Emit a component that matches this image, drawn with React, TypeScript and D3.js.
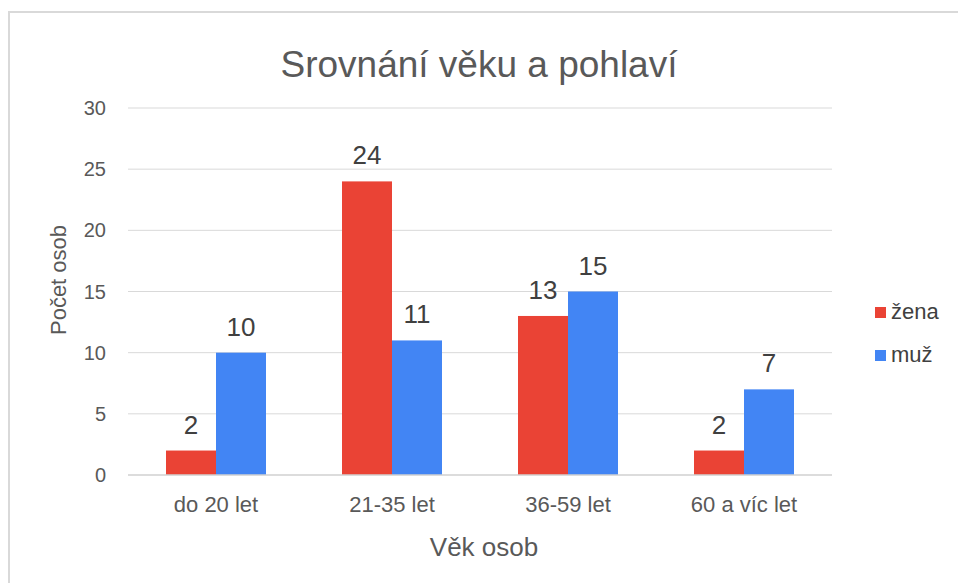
import * as d3 from "d3";
import { useEffect, useRef } from "react";

const categories = ["do 20 let", "21-35 let", "36-59 let", "60 a víc let"];
const seriesNames = ["žena", "muž"];
const zena = [2, 24, 13, 2];
const muz = [10, 11, 15, 7];
const yTicks = [0, 5, 10, 15, 20, 25, 30];
const colors = ["#ea4335", "#4285f4"];

export default function App() {
  const ref = useRef<SVGSVGElement | null>(null);
  useEffect(() => {
    if (!ref.current) return;
    const svg = d3.select(ref.current);
    svg.selectAll("*").remove();
    const w = 958;
    const h = 583;
    const font = "'Liberation Sans', Arial, sans-serif";

    // chart frame, clipped at right and bottom
    svg.append("rect").attr("x", 9).attr("y", 12).attr("width", w + 20).attr("height", h + 20)
      .attr("fill", "#fff").attr("stroke", "#d9d9d9").attr("stroke-width", 2);

    const x = d3.scaleBand<string>().domain(categories).range([128, 832]);
    const y = d3.scaleLinear().domain([0, 30]).range([475, 108]);
    const inner = d3.scaleBand<string>().domain(seriesNames).range([0, 100]);
    const pad = (x.bandwidth() - 100) / 2;

    svg.append("text").attr("x", 479).attr("y", 77).attr("text-anchor", "middle")
      .attr("font-family", font).attr("font-size", 37).attr("fill", "#595959").text("Srovnání věku a pohlaví");

    const grid = svg.append("g");
    grid.selectAll("line").data(yTicks.filter((t) => t > 0)).join("line")
      .attr("x1", 128).attr("x2", 832).attr("y1", (d) => y(d)).attr("y2", (d) => y(d))
      .attr("stroke", "#d9d9d9").attr("stroke-width", 1);
    svg.append("g").selectAll("text").data(yTicks).join("text")
      .attr("x", 106).attr("y", (d) => y(d) + 7).attr("text-anchor", "end")
      .attr("font-family", font).attr("font-size", 20).attr("fill", "#595959").text((d) => d);

    const rows = [zena, muz];
    rows.forEach((vals, si) => {
      const g = svg.append("g");
      g.selectAll("rect").data(vals).join("rect")
        .attr("x", (_, i) => (x(categories[i]) ?? 0) + pad + (inner(seriesNames[si]) ?? 0))
        .attr("y", (d) => y(d)).attr("width", inner.bandwidth()).attr("height", (d) => y(0) - y(d))
        .attr("fill", colors[si]);
      g.selectAll("text").data(vals).join("text")
        .attr("x", (_, i) => (x(categories[i]) ?? 0) + pad + (inner(seriesNames[si]) ?? 0) + inner.bandwidth() / 2)
        .attr("y", (d) => y(d) - 17).attr("text-anchor", "middle")
        .attr("font-family", font).attr("font-size", 26).attr("fill", "#404040").text((d) => d);
    });

    svg.append("line").attr("x1", 128).attr("x2", 832).attr("y1", y(0)).attr("y2", y(0))
      .attr("stroke", "#d0d0d0").attr("stroke-width", 1.5);

    svg.append("g").selectAll("text").data(categories).join("text")
      .attr("x", (d) => (x(d) ?? 0) + x.bandwidth() / 2).attr("y", 512).attr("text-anchor", "middle")
      .attr("font-family", font).attr("font-size", 22).attr("fill", "#595959").text((d) => d);

    svg.append("text").attr("x", 484).attr("y", 556).attr("text-anchor", "middle")
      .attr("font-family", font).attr("font-size", 26).attr("fill", "#595959").text("Věk osob");
    svg.append("text").attr("transform", "translate(66,280) rotate(-90)").attr("text-anchor", "middle")
      .attr("font-family", font).attr("font-size", 22).attr("fill", "#595959").text("Počet osob");

    const leg = svg.append("g");
    seriesNames.forEach((name, i) => {
      const ly = 312 + i * 43;
      leg.append("rect").attr("x", 875).attr("y", ly - 5).attr("width", 11).attr("height", 11).attr("fill", colors[i]);
      leg.append("text").attr("x", 891).attr("y", ly + 7).attr("font-family", font).attr("font-size", 22)
        .attr("fill", "#404040").text(name);
    });
  }, []);
  return <svg ref={ref} width={958} height={583} style={{ position: "absolute", left: 0, top: 0 }} />;
}
